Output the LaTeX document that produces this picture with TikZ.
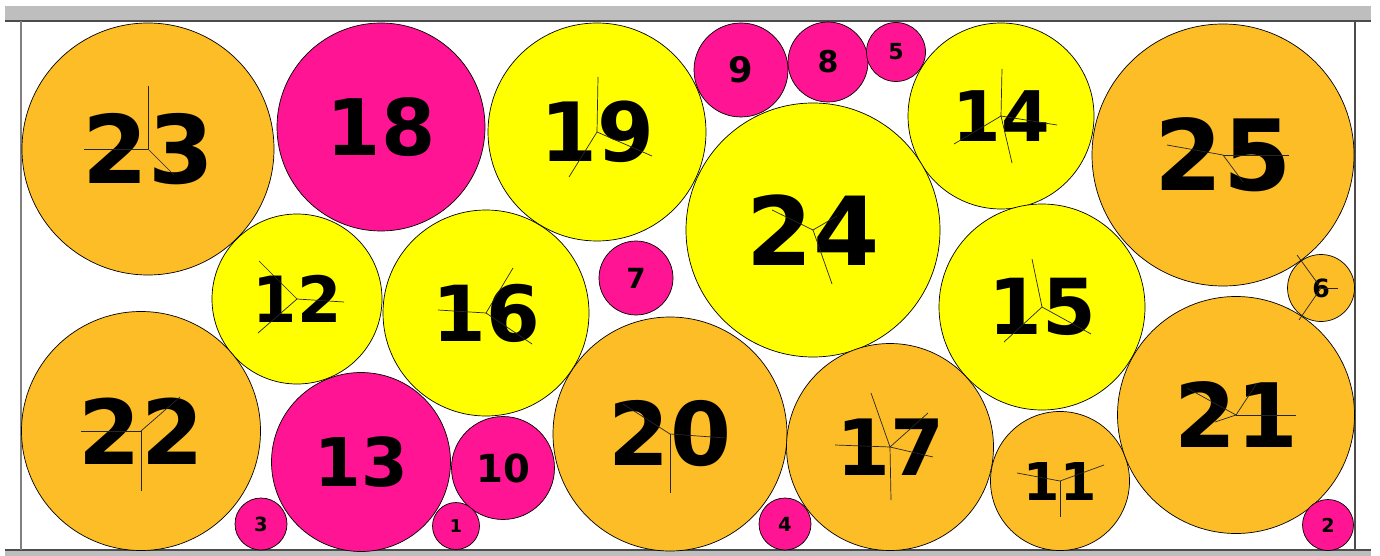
\documentclass[tikz,border=0pt]{standalone}
\usepackage{fontspec}
\newfontfamily\numfont{DejaVu Sans}
\definecolor{orn}{RGB}{252,189,38}
\definecolor{pnk}{RGB}{255,20,147}
\definecolor{yel}{RGB}{255,255,0}
\definecolor{barg}{RGB}{190,190,190}
\begin{document}
\begin{tikzpicture}[x=1pt, y=-1pt, ball/.style={circle, draw=black, line width=0.7pt, inner sep=0pt, outer sep=0pt},
  spoke/.style={draw=black!85, line width=0.7pt}, frame/.style={line width=1.2pt}]
\useasboundingbox (0,0) rectangle (1380,556);
\fill[barg] (5,6) rectangle (1371,21); \draw[frame, black!70] (5,21) -- (1371,21);
\fill[barg] (5,550) rectangle (1371,556); \draw[frame, black!70] (5,550) -- (1371,550);
\draw[frame, black!50] (21,21) -- (21,550); \draw[frame, black!70] (1355,21) -- (1355,550);
\foreach \n/\x/\y/\r/\c in {23/148/149/126/orn, 18/381/127/104/pnk, 19/597/132/109/yel, 9/741/70/47/pnk,
  8/828/62/40/pnk, 5/896/52/29.5/pnk, 14/1001/116/93/yel, 25/1223/155/131/orn, 12/297/299/85/yel,
  16/486/313/103/yel, 7/636/278/37/pnk, 24/813/230/127/yel, 15/1042/307/103/yel, 6/1321/288/33.5/orn,
  22/141/431/119.5/orn, 13/361/462/89.5/pnk, 10/503/468/51.5/pnk, 20/670/434/117/orn, 17/890/447/103.5/orn,
  11/1060/481/69.5/orn, 21/1236/415/118.5/orn, 3/261/524/26/pnk, 1/456/526/23.5/pnk, 4/785/524/26/pnk,
  2/1328/525/25.5/pnk}{
  \pgfmathsetmacro\fs{0.75*\r}
  \node[ball, fill=\c, minimum size=2*\r] (c\n) at (\x,\y) {};
  \node[font=\numfont\bfseries\fontsize{\fs}{\fs}\selectfont, inner sep=0pt] (t\n) at (c\n.center) {\n};
}
\path[spoke] (c23.center) edge +(0,-63) edge +(-64,0) edge +(26,26);
\path[spoke] (c22.center) edge +(-60,0) edge +(0,60) edge +(39,-34);
\path[spoke] (c25.center) edge +(-56,-10) edge +(66,0) edge +(20,27);
\path[spoke] (c6.center) edge +(-24,-33) edge +(17,0) edge +(-22,32);
\path[spoke] (c21.center) edge +(-49,-27) edge +(60,0) edge +(21,-32) edge +(-21,7);
\path[spoke] (c24.center) edge +(-41,-20) edge +(24,-14) edge +(19,54);
\path[spoke] (c12.center) edge +(-38,-38) edge +(47,3) edge +(-39,34);
\path[spoke] (c16.center) edge +(-48,-3) edge +(27,-45) edge +(46,31);
\path[spoke] (c19.center) edge +(1,-55) edge +(-28,45) edge +(55,24);
\path[spoke] (c14.center) edge +(1,-47) edge +(11,47) edge +(-47,28) edge +(56,9);
\path[spoke] (c15.center) edge +(-10,-48) edge +(-38,35) edge +(49,27);
\path[spoke] (c20.center) edge +(-47,-30) edge +(0,59) edge +(56,4);
\path[spoke] (c17.center) edge +(-19,-54) edge +(-55,-2) edge +(1,53) edge +(43,10) edge +(38,-34);
\path[spoke] (c11.center) edge +(-43,-8) edge +(44,-16) edge +(0,36);
\end{tikzpicture}
\end{document}
